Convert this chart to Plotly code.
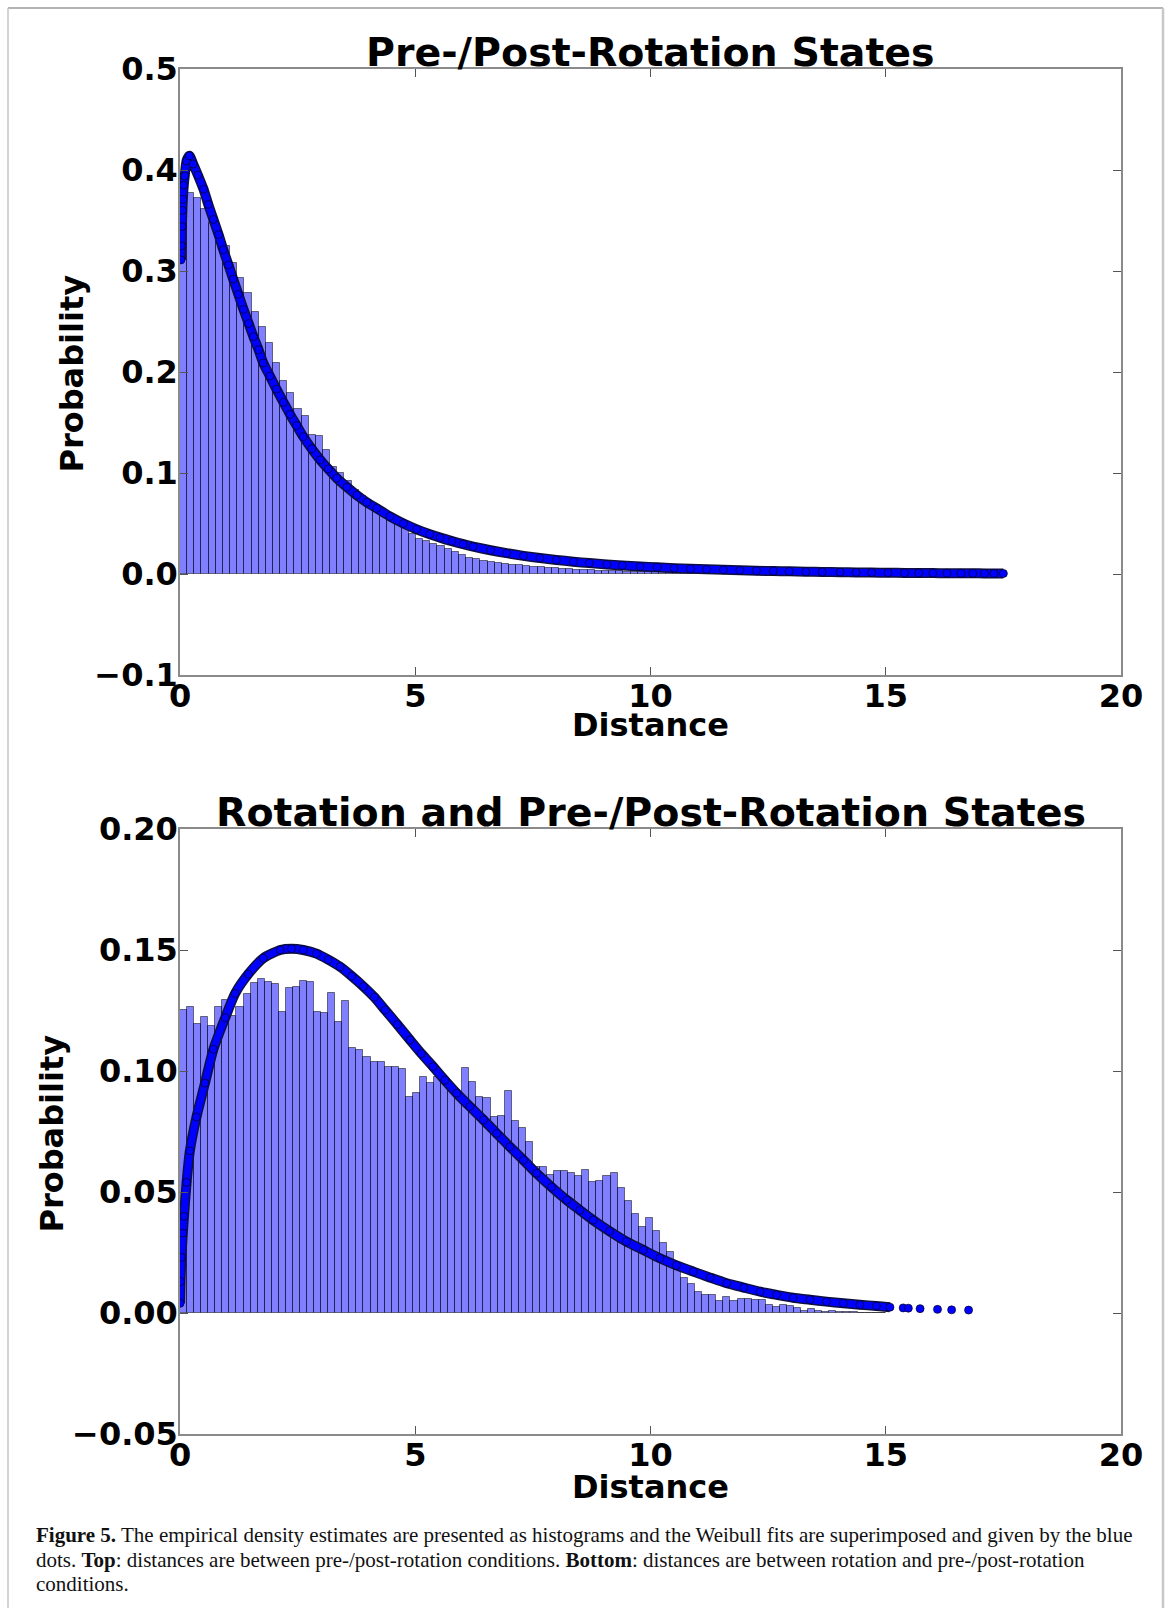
import numpy as np
import plotly.graph_objects as go

W, H = 1170, 1608

# ---------------- data ----------------
top_bin_width = 0.152
top_hist = [0.384, 0.377, 0.372, 0.361, 0.348, 0.337, 0.325, 0.308, 0.293, 0.278,
            0.259, 0.245, 0.229, 0.209, 0.191, 0.179, 0.163, 0.156, 0.138, 0.137,
            0.123, 0.106, 0.100, 0.092, 0.083, 0.077, 0.070, 0.064, 0.060, 0.055,
            0.052, 0.047, 0.040, 0.035, 0.033, 0.030, 0.028, 0.025, 0.022, 0.019,
            0.0160, 0.0145, 0.0132, 0.0120, 0.0110, 0.0100, 0.0092, 0.0085, 0.0078, 0.0072,
            0.0066, 0.0060, 0.0055, 0.0050, 0.0046, 0.0042, 0.0038, 0.0035, 0.0032, 0.0029,
            0.0027, 0.0025, 0.0023, 0.0021, 0.0019, 0.0017, 0.0016, 0.0015, 0.0014, 0.0013,
            0.0012, 0.0011, 0.0010, 0.0009, 0.0008, 0.0008, 0.0007, 0.0007, 0.0006, 0.0006,
            0.0005, 0.0005, 0.0005, 0.0004, 0.0004, 0.0004, 0.0003, 0.0003, 0.0003, 0.0003,
            0.0002, 0.0002, 0.0002, 0.0002, 0.0002, 0.0001, 0.0001, 0.0001, 0.0001, 0.0001]

bot_bin_width = 0.15
bot_hist = [0.1252, 0.1266, 0.1194, 0.1222, 0.1186, 0.1266, 0.1293, 0.1229, 0.1266, 0.1317,
            0.1362, 0.1380, 0.1369, 0.1358, 0.1245, 0.1342, 0.1346, 0.1373, 0.1368, 0.1245,
            0.1238, 0.1321, 0.1204, 0.1289, 0.1096, 0.1087, 0.1057, 0.1039, 0.1039, 0.1018,
            0.1018, 0.1007, 0.0894, 0.0908, 0.0974, 0.0952, 0.0975, 0.0955, 0.0935, 0.0908,
            0.1011, 0.0956, 0.0891, 0.0887, 0.0809, 0.0814, 0.0917, 0.0795, 0.0766, 0.0708,
            0.0605, 0.0602, 0.0570, 0.0587, 0.0588, 0.0580, 0.0567, 0.0591, 0.0543, 0.0545,
            0.0567, 0.0580, 0.0515, 0.0464, 0.0410, 0.0357, 0.0391, 0.0340, 0.0291, 0.0251,
            0.0205, 0.0146, 0.0118, 0.0085, 0.0074, 0.0074, 0.0051, 0.0067, 0.0051, 0.0056,
            0.0058, 0.0055, 0.0053, 0.0033, 0.0026, 0.0033, 0.0029, 0.0019, 0.0010, 0.0015,
            0.0008, 0.0006, 0.0008, 0.0003, 0.0003, 0.0003, 0.0002, 0.0001, 0.0001, 0.0001]

top_fit_x = [0.02, 0.03, 0.04, 0.05, 0.06, 0.08, 0.10, 0.14, 0.20, 0.28, 0.38, 0.50, 0.60,
             0.71, 0.82, 0.92, 1.03, 1.13, 1.24, 1.35, 1.46, 1.56, 1.67, 1.77, 1.91, 2.05,
             2.20, 2.34, 2.48, 2.62, 2.80, 2.98, 3.15, 3.33, 3.55, 3.76, 3.97, 4.18, 4.46,
             4.75, 5.03, 5.31, 5.53, 5.78, 6.02, 6.23, 6.60, 6.94, 7.30, 7.65, 8.00, 8.36,
             8.70, 9.07, 9.40, 9.78, 10.14, 10.50, 10.85, 11.19, 11.55, 11.90, 12.25, 12.61,
             12.95, 13.30, 13.65, 14.03, 14.37, 14.70, 15.05, 15.40, 15.70, 16.00, 16.30,
             16.60, 16.85, 17.10, 17.30, 17.50]
top_fit_y = [0.311, 0.325, 0.344, 0.360, 0.371, 0.385, 0.394, 0.409, 0.414, 0.406, 0.395, 0.381, 0.366,
             0.351, 0.336, 0.321, 0.306, 0.292, 0.277, 0.262, 0.248, 0.235, 0.222, 0.209, 0.196, 0.183,
             0.170, 0.158, 0.147, 0.136, 0.124, 0.113, 0.104, 0.095, 0.086, 0.078, 0.071, 0.065, 0.057,
             0.050, 0.0443, 0.0394, 0.0360, 0.0325, 0.0295, 0.0271, 0.0235, 0.0206, 0.0180, 0.0158, 0.0139, 0.0122,
             0.0108, 0.0095, 0.0085, 0.0074, 0.0066, 0.0058, 0.0052, 0.0046, 0.0041, 0.0036, 0.0032, 0.0029,
             0.0026, 0.0023, 0.0020, 0.0018, 0.0016, 0.0014, 0.0013, 0.0011, 0.0010, 0.0009, 0.0008,
             0.0007, 0.0007, 0.0006, 0.0006, 0.0005]

bot_fit_x = [0.001, 0.01, 0.03, 0.06, 0.085, 0.14, 0.21, 0.35, 0.53, 0.71, 0.96, 1.17, 1.45,
             1.77, 2.13, 2.37, 2.62, 2.90, 3.15, 3.40, 3.65, 3.90, 4.13, 4.36, 4.62, 4.89,
             5.13, 5.38, 5.63, 5.88, 6.16, 6.45, 6.73, 7.01, 7.30, 7.58, 7.90, 8.22, 8.50,
             8.78, 9.13, 9.49, 9.85, 10.20, 10.55, 10.91, 11.27, 11.62, 11.98, 12.33, 12.68,
             13.03, 13.39, 13.74, 14.10, 14.45, 14.80, 15.09]
bot_fit_y = [0.004, 0.013, 0.023, 0.033, 0.040, 0.054, 0.067, 0.081, 0.095, 0.109, 0.122, 0.132, 0.140,
             0.1466, 0.1500, 0.1505, 0.1500, 0.1485, 0.1460, 0.1431, 0.1392, 0.1349, 0.1305, 0.1252, 0.1192, 0.1128,
             0.1072, 0.1018, 0.0962, 0.0908, 0.0853, 0.0798, 0.0742, 0.0687, 0.0632, 0.0577, 0.0520, 0.0467, 0.0425,
             0.0384, 0.0338, 0.0295, 0.0260, 0.0226, 0.0197, 0.0171, 0.0146, 0.0123, 0.0105, 0.0088, 0.0075,
             0.0063, 0.0055, 0.0047, 0.0040, 0.0034, 0.0029, 0.0024]
bot_tail_x = [15.37, 15.48, 15.73, 16.10, 16.40, 16.76]
bot_tail_y = [0.0021, 0.0020, 0.0018, 0.0015, 0.0013, 0.0012]

x_ticks = [0, 5, 10, 15, 20]
x_labels = ["0", "5", "10", "15", "20"]
top_y_ticks = [-0.1, 0.0, 0.1, 0.2, 0.3, 0.4, 0.5]
top_y_labels = ["\u22120.1", "0.0", "0.1", "0.2", "0.3", "0.4", "0.5"]
bot_y_ticks = [-0.05, 0.0, 0.05, 0.10, 0.15, 0.20]
bot_y_labels = ["\u22120.05", "0.00", "0.05", "0.10", "0.15", "0.20"]

top_title = "Pre-/Post-Rotation States"
bot_title = "Rotation and Pre-/Post-Rotation States"
x_title = "Distance"
y_title = "Probability"
caption_lines = [
    "<b>Figure 5.</b> The empirical density estimates are presented as histograms and the Weibull fits are superimposed and given by the blue",
    "dots. <b>Top</b>: distances are between pre-/post-rotation conditions. <b>Bottom</b>: distances are between rotation and pre-/post-rotation",
    "conditions.",
]

# ---------------- layout helpers ----------------
def px_x(p):
    return p / W

def px_y(p):
    return 1 - p / H

AX_L, AX_R = 180, 1121
TOP_T, TOP_B = 69, 675
BOT_T, BOT_B = 829, 1434

FONT = "DejaVu Sans"
TICK_FONT = dict(family=FONT, size=32, color="black", weight="bold")
BAR_FILL = "rgba(0,0,255,0.5)"
BAR_EDGE = "rgba(0,0,0,0.5)"

fig = go.Figure()

def add_hist(vals, width, xa, ya):
    centers = np.arange(len(vals)) * width + width / 2
    fig.add_trace(go.Bar(x=centers, y=vals, width=width, xaxis=xa, yaxis=ya,
                         marker=dict(color=BAR_FILL, line=dict(color=BAR_EDGE, width=1)),
                         showlegend=False, hoverinfo="skip"))

def add_fit(xs, ys, xa, ya, band=True):
    if band:
        fig.add_trace(go.Scatter(x=xs, y=ys, mode="lines", xaxis=xa, yaxis=ya,
                                 line=dict(color="#101040", width=10, shape="spline", smoothing=0.6),
                                 showlegend=False, hoverinfo="skip"))
        fig.add_trace(go.Scatter(x=xs, y=ys, mode="lines", xaxis=xa, yaxis=ya,
                                 line=dict(color="#0000ff", width=7, shape="spline", smoothing=0.6),
                                 showlegend=False, hoverinfo="skip"))
    fig.add_trace(go.Scatter(x=xs, y=ys, mode="markers", xaxis=xa, yaxis=ya,
                             marker=dict(color="#0000ff", size=8,
                                         line=dict(color="#000020", width=0.7)),
                             showlegend=False, hoverinfo="skip"))

add_hist(top_hist, top_bin_width, "x", "y")
add_fit(top_fit_x, top_fit_y, "x", "y")
add_hist(bot_hist, bot_bin_width, "x2", "y2")
add_fit(bot_fit_x, bot_fit_y, "x2", "y2")
add_fit(bot_tail_x, bot_tail_y, "x2", "y2", band=False)

axis_common = dict(showline=True, linecolor="#8a8a8a", linewidth=1.5, mirror="ticks",
                   ticks="inside", ticklen=8, tickwidth=1.2, tickcolor="#555555",
                   showgrid=False, zeroline=False, tickfont=TICK_FONT, automargin=False)

xa_common = dict(axis_common, range=[0, 20], tickvals=x_ticks, ticktext=x_labels,
                 ticklabelstandoff=-8)

fig.update_layout(
    width=W, height=H,
    margin=dict(l=0, r=0, t=0, b=0, autoexpand=False),
    paper_bgcolor="white", plot_bgcolor="white",
    bargap=0, barmode="overlay",
    xaxis=dict(xa_common, domain=[px_x(AX_L), px_x(AX_R)], anchor="y"),
    yaxis=dict(axis_common, domain=[px_y(TOP_B), px_y(TOP_T)], anchor="x",
               range=[-0.1, 0.5], tickvals=top_y_ticks, ticktext=top_y_labels,
               ticklabelstandoff=-6),
    xaxis2=dict(xa_common, domain=[px_x(AX_L), px_x(AX_R)], anchor="y2"),
    yaxis2=dict(axis_common, domain=[px_y(BOT_B), px_y(BOT_T)], anchor="x2",
                range=[-0.05, 0.20], tickvals=bot_y_ticks, ticktext=bot_y_labels,
                ticklabelstandoff=-6),
)

# axis titles as annotations (placed like the reference)
LABEL_FONT = dict(family=FONT, size=32, color="black", weight="bold")
for cx, cy in [((AX_L + AX_R) / 2, 725), ((AX_L + AX_R) / 2, 1487)]:
    fig.add_annotation(text=x_title, xref="paper", yref="paper", x=px_x(cx), y=px_y(cy),
                       xanchor="center", yanchor="middle", showarrow=False, font=LABEL_FONT)
for cx, cy in [(71.5, 374), (51.5, 1134)]:
    fig.add_annotation(text=y_title, xref="paper", yref="paper", x=px_x(cx), y=px_y(cy),
                       xanchor="center", yanchor="middle", textangle=-90,
                       showarrow=False, font=LABEL_FONT)

TITLE_FONT = dict(family=FONT, size=39.5, color="black", weight="bold")
fig.add_annotation(text=top_title, xref="paper", yref="paper",
                   x=px_x((AX_L + AX_R) / 2), y=px_y(TOP_T), xanchor="center", yanchor="bottom",
                   yshift=-8, showarrow=False, font=TITLE_FONT)
fig.add_annotation(text=bot_title, xref="paper", yref="paper",
                   x=px_x((AX_L + AX_R) / 2), y=px_y(BOT_T), xanchor="center", yanchor="bottom",
                   yshift=-8, showarrow=False, font=TITLE_FONT)

CAP_FONT = dict(family="Liberation Serif", size=21, color="#111111")
for i, line in enumerate(caption_lines):
    fig.add_annotation(text=line, xref="paper", yref="paper",
                       x=px_x(34), y=px_y(1535 + i * 24.5), xanchor="left", yanchor="middle",
                       showarrow=False, font=CAP_FONT, align="left")

# figure frame
fig.add_shape(type="line", xref="paper", yref="paper", x0=px_x(8), x1=px_x(1163),
              y0=px_y(8), y1=px_y(8), line=dict(color="#9a9a9a", width=1.5))
fig.add_shape(type="line", xref="paper", yref="paper", x0=px_x(8), x1=px_x(8),
              y0=px_y(8), y1=px_y(1620), line=dict(color="#c4c4c4", width=1.5))
fig.add_shape(type="line", xref="paper", yref="paper", x0=px_x(1163), x1=px_x(1163),
              y0=px_y(8), y1=px_y(1620), line=dict(color="#c8c8c8", width=2.5))

fig.write_html("out.html")
